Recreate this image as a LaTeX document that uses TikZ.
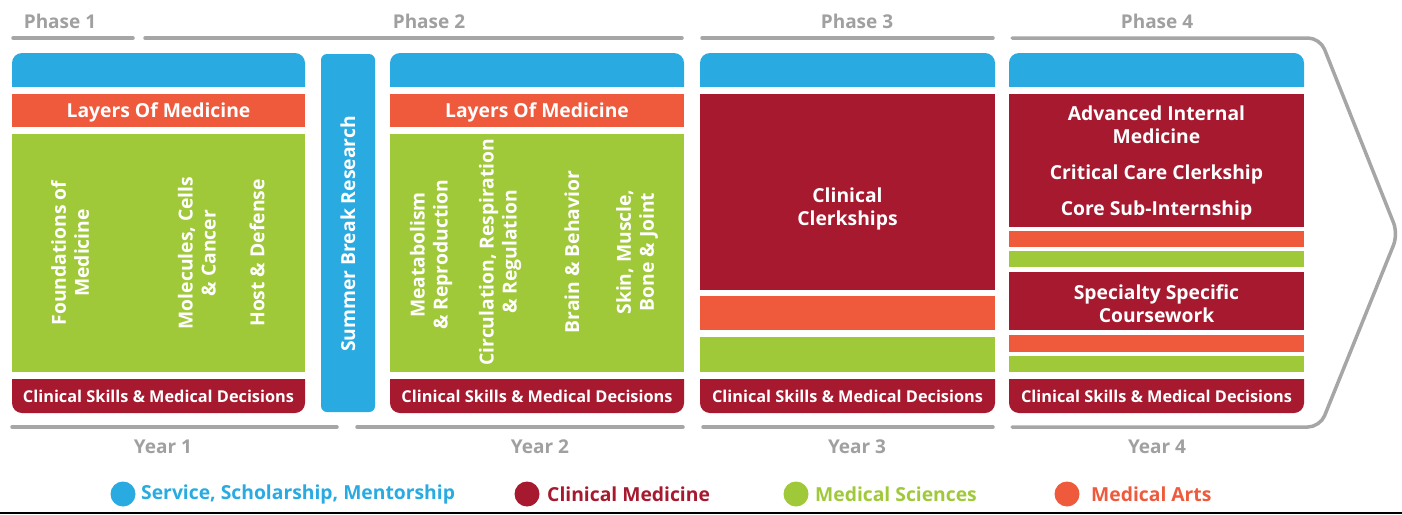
\documentclass[tikz,border=0pt]{standalone}
\usepackage{fontspec}
\setmainfont{Open Sans}
\definecolor{sblue}{HTML}{29ABE2}
\definecolor{cred}{HTML}{A6192E}
\definecolor{mgreen}{HTML}{A0C93A}
\definecolor{morange}{HTML}{EF5A3D}
\definecolor{lgray}{HTML}{A6A6A6}
\definecolor{tgray}{HTML}{A0A0A0}
\tikzset{
 lbl/.style={text=white, font=\bfseries\fontsize{19.3}{23}\selectfont, align=center, inner sep=0pt},
 csl/.style={text=white, font=\bfseries\fontsize{16.3}{18}\selectfont, inner sep=0pt},
 hdr/.style={text=tgray, font=\bfseries\fontsize{19}{20}\selectfont, inner sep=0pt},
 leg/.style={font=\bfseries\fontsize{19.3}{20}\selectfont, anchor=west, inner sep=0pt},
 gline/.style={draw=lgray, line width=3.5pt, line cap=round},
}
\newcommand\topbar[2]{\begin{scope}\clip (#1,53) rectangle (#2,86); \fill[sblue, rounded corners=10pt] (#1,53) rectangle (#2,110);\end{scope}}
\newcommand\botbar[3]{\begin{scope}\clip (#1,379) rectangle (#2,413); \fill[cred, rounded corners=10pt] (#1,355) rectangle (#2,413);\end{scope}
 \node[csl] (#3) at ({(#1+#2)/2},396) {Clinical Skills \& Medical Decisions};}
\begin{document}
\begin{tikzpicture}[x=1pt,y=-1pt]
\useasboundingbox (0,0) rectangle (1402,514);
\fill[white] (0,0) rectangle (1402,514);
% phase labels
\node[hdr] (p1) at (60,21) {Phase 1};
\node[hdr] (p2) at (429,21) {Phase 2};
\node[hdr] (p3) at (857,21) {Phase 3};
\node[hdr] (p4) at (1157,21) {Phase 4};
% top lines
\coordinate (t1a) at (13,38); \coordinate (t1b) at (133,38);
\coordinate (t2a) at (145,38); \coordinate (t2b) at (682,38);
\coordinate (t3a) at (702,38); \coordinate (t3b) at (993,38);
\draw[gline] (t1a) -- (t1b);
\draw[gline] (t2a) -- (t2b);
\draw[gline] (t3a) -- (t3b);
% bottom lines
\coordinate (b1a) at (12,427); \coordinate (b1b) at (337,427);
\coordinate (b2a) at (357,427); \coordinate (b2b) at (683,427);
\coordinate (b3a) at (703,427); \coordinate (b3b) at (993,427);
\draw[gline] (b1a) -- (b1b);
\draw[gline] (b2a) -- (b2b);
\draw[gline] (b3a) -- (b3b);
% chevron
\coordinate (c4a) at (1012,38); \coordinate (c4b) at (1320,38);
\coordinate (tip) at (1398,234); \coordinate (c4c) at (1320,427); \coordinate (c4d) at (1012,427);
\draw[gline, rounded corners=12pt] (c4a) -- (c4b) -- (tip) -- (c4c) -- (c4d);
% year labels
\node[hdr] (y1) at (163,447) {Year 1};
\node[hdr] (y2) at (540,447) {Year 2};
\node[hdr] (y3) at (857,447) {Year 3};
\node[hdr] (y4) at (1157,447) {Year 4};
% column 1
\topbar{12}{305}
\fill[morange] (12,94) rectangle (305,127);
\node[lbl] (lom1) at (158.5,112) {Layers Of Medicine};
\fill[mgreen] (12,134) rectangle (305,372);
\node[lbl, rotate=90] (fom) at (70,253) {Foundations of\\Medicine};
\node[lbl, rotate=90] (mcc) at (197,253) {Molecules, Cells\\\& Cancer};
\node[lbl, rotate=90] (hd) at (257,253) {Host \& Defense};
\botbar{12}{305}{cs1}
% summer
\fill[sblue, rounded corners=6pt] (321,54) rectangle (375,412);
\node[lbl, rotate=90] (sbr) at (348,234) {Summer Break Research};
% column 2
\topbar{390}{684}
\fill[morange] (390,94) rectangle (684,127);
\node[lbl] (lom2) at (537,112) {Layers Of Medicine};
\fill[mgreen] (390,134) rectangle (684,372);
\node[lbl, rotate=90] (mr) at (431,255) {Meatabolism\\\& Reproduction};
\node[lbl, rotate=90] (crr) at (500,252) {Circulation, Respiration\\\& Regulation};
\node[lbl, rotate=90] (bb) at (572,252) {Brain \& Behavior};
\node[lbl, rotate=90] (smb) at (637,252) {Skin, Muscle,\\Bone \& Joint};
\botbar{390}{684}{cs2}
% column 3
\topbar{700}{995}
\fill[cred] (700,94) rectangle (995,290);
\node[lbl] (cc) at (847.5,209) {Clinical\\Clerkships};
\fill[morange] (700,296) rectangle (995,330);
\fill[mgreen] (700,337) rectangle (995,372);
\botbar{700}{995}{cs3}
% column 4
\topbar{1009}{1304}
\fill[cred] (1009,94) rectangle (1304,227);
\node[lbl] (aim) at (1156.5,125) {Advanced Internal\\Medicine};
\node[lbl] (ccc) at (1156.5,174) {Critical Care Clerkship};
\node[lbl] (csi) at (1156.5,210) {Core Sub-Internship};
\fill[morange] (1009,231) rectangle (1304,247);
\fill[mgreen] (1009,251) rectangle (1304,267);
\fill[cred] (1009,272) rectangle (1304,330);
\node[lbl] (ssc) at (1156.5,304) {Specialty Specific\\Coursework};
\fill[morange] (1009,335) rectangle (1304,352);
\fill[mgreen] (1009,356) rectangle (1304,372);
\botbar{1009}{1304}{cs4}
% legend
\fill[sblue] (123,494) circle (12.5);
\node[leg, text=sblue] (l1) at (141,494) {Service, Scholarship, Mentorship};
\fill[cred] (527,494) circle (12.5);
\node[leg, text=cred] (l2) at (547,494) {Clinical Medicine};
\fill[mgreen] (796,494) circle (12.5);
\node[leg, text=mgreen] (l3) at (815,494) {Medical Sciences};
\fill[morange] (1067,494) circle (12.5);
\node[leg, text=morange] (l4) at (1091,494) {Medical Arts};
% bottom rule
\coordinate (ra) at (0,513); \coordinate (rb) at (1402,513);
\draw[line width=1.5pt] (ra) -- (rb);
\end{tikzpicture}
\end{document}
